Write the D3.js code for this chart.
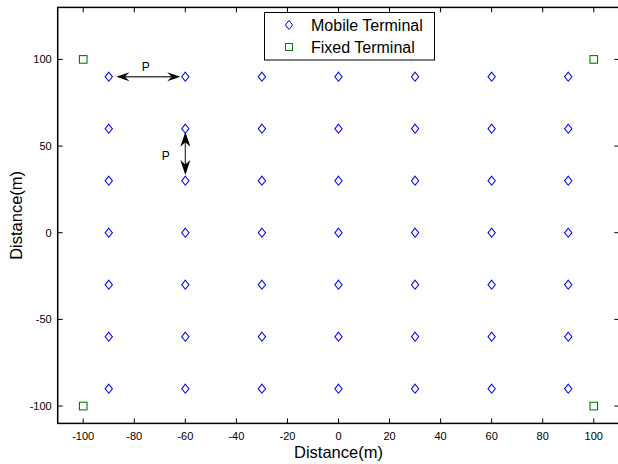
<!DOCTYPE html>
<html><head><meta charset="utf-8">
<script src="https://cdn.jsdelivr.net/npm/d3@7"></script>
<style>body{margin:0;background:#fff;}svg{display:block;font-family:"Liberation Sans",Arial,sans-serif;}</style>
</head><body>
<script>
const mobileX = [-90, -60, -30, 0, 30, 60, 90];
const mobileY = [90, 60, 30, 0, -30, -60, -90];
const fixedX = [-100, 100, -100, 100];
const fixedY = [100, 100, -100, -100];
const xTicks = [-100, -80, -60, -40, -20, 0, 20, 40, 60, 80, 100];
const yTicks = [-100, -50, 0, 50, 100];
const arrowH = {x1: -87, x2: -62, y: 90, label: "P", lx: -75.5, ly: 93.5};
const arrowV = {x: -60, y1: 58.3, y2: 33.3, label: "P", lx: -67.7, ly: 41.9};
const legendLabels = ["Mobile Terminal", "Fixed Terminal"];

const W = 618, H = 464;
const svg = d3.select("body").append("svg").attr("width", W).attr("height", H);
const x = d3.scaleLinear().domain([-110, 110]).range([57.7, 619.3]);
const y = d3.scaleLinear().domain([-110, 130]).range([423.4, 7.4]);

const g = svg.append("g");
g.append("rect").attr("x", x(-110)).attr("y", y(130)).attr("width", x(110) - x(-110)).attr("height", y(-110) - y(130))
  .attr("fill", "none").attr("stroke", "#000").attr("stroke-width", 1.5);

const tl = 5;
g.selectAll(".xt").data(xTicks).join("line").attr("x1", d => x(d)).attr("x2", d => x(d))
  .attr("y1", y(-110)).attr("y2", y(-110) - tl).attr("stroke", "#000");
g.selectAll(".xtt").data(xTicks).join("line").attr("x1", d => x(d)).attr("x2", d => x(d))
  .attr("y1", y(130)).attr("y2", y(130) + tl).attr("stroke", "#000");
g.selectAll(".yt").data(yTicks).join("line").attr("y1", d => y(d)).attr("y2", d => y(d))
  .attr("x1", x(-110)).attr("x2", x(-110) + tl).attr("stroke", "#000");
g.selectAll(".ytr").data(yTicks).join("line").attr("y1", d => y(d)).attr("y2", d => y(d))
  .attr("x1", x(110)).attr("x2", x(110) - tl).attr("stroke", "#000");

g.selectAll(".xl").data(xTicks).join("text").attr("x", d => x(d)).attr("y", y(-110) + 17)
  .attr("text-anchor", "middle").attr("font-size", 11).text(d => d);
g.selectAll(".yl").data(yTicks).join("text").attr("x", x(-110) - 6).attr("y", d => y(d) + 4)
  .attr("text-anchor", "end").attr("font-size", 11).text(d => d);

svg.append("text").attr("x", (x(-110) + x(110)) / 2).attr("y", 458).attr("text-anchor", "middle")
  .attr("font-size", 16.5).text("Distance(m)");
svg.append("text").attr("transform", `translate(22,${(y(-110) + y(130)) / 2}) rotate(-90)`)
  .attr("text-anchor", "middle").attr("font-size", 16.5).text("Distance(m)");

const pts = [];
mobileY.forEach(yy => mobileX.forEach(xx => pts.push([xx, yy])));
const diamond = (cx, cy) => `M${cx},${cy - 4.5}L${cx + 3.6},${cy}L${cx},${cy + 4.5}L${cx - 3.6},${cy}Z`;
g.selectAll(".m").data(pts).join("path").attr("d", d => diamond(x(d[0]), y(d[1])))
  .attr("fill", "none").attr("stroke", "#0000ff").attr("stroke-width", 1.1);
g.selectAll(".f").data(fixedX.map((d, i) => [d, fixedY[i]])).join("rect")
  .attr("x", d => x(d[0]) - 3.8).attr("y", d => y(d[1]) - 3.8).attr("width", 7.6).attr("height", 7.6)
  .attr("fill", "none").attr("stroke", "#008000").attr("stroke-width", 1.1);

function head(tx, ty, dx, dy, L, w) {
  const n = 4.5;
  const bx = tx - dx * L, by = ty - dy * L;
  const px = -dy, py = dx;
  const nx = tx - dx * (L - n), ny = ty - dy * (L - n);
  return `M${tx},${ty}L${bx + px * w},${by + py * w}L${nx},${ny}L${bx - px * w},${by - py * w}Z`;
}
const ax1 = x(arrowH.x1), ax2 = x(arrowH.x2), ay = y(arrowH.y);
g.append("line").attr("x1", ax1 + 6).attr("x2", ax2 - 6).attr("y1", ay).attr("y2", ay).attr("stroke", "#444").attr("stroke-width", 1.3);
g.append("path").attr("d", head(ax1, ay, -1, 0, 13, 4.5)).attr("fill", "#000");
g.append("path").attr("d", head(ax2, ay, 1, 0, 13, 4.5)).attr("fill", "#000");
g.append("text").attr("x", x(arrowH.lx)).attr("y", y(arrowH.ly)).attr("text-anchor", "middle").attr("font-size", 12).text(arrowH.label);

const vx = x(arrowV.x), vy1 = y(arrowV.y1), vy2 = y(arrowV.y2);
g.append("line").attr("x1", vx).attr("x2", vx).attr("y1", vy1 + 6).attr("y2", vy2 - 6).attr("stroke", "#444").attr("stroke-width", 1.3);
g.append("path").attr("d", head(vx, vy1, 0, -1, 15, 5)).attr("fill", "#000");
g.append("path").attr("d", head(vx, vy2, 0, 1, 15, 5)).attr("fill", "#000");
g.append("text").attr("x", x(arrowV.lx)).attr("y", y(arrowV.ly)).attr("text-anchor", "middle").attr("font-size", 12).text(arrowV.label);

const lg = svg.append("g");
lg.append("rect").attr("x", 264.5).attr("y", 12.5).attr("width", 170).attr("height", 47.5)
  .attr("fill", "#fff").attr("stroke", "#000").attr("stroke-width", 1);
lg.append("path").attr("d", diamond(289, 25)).attr("fill", "none").attr("stroke", "#0000ff");
lg.append("rect").attr("x", 289 - 3.5).attr("y", 47 - 3.5).attr("width", 7).attr("height", 7).attr("fill", "none").attr("stroke", "#008000");
lg.selectAll(".lt").data(legendLabels).join("text").attr("x", 311).attr("y", (d, i) => 31 + i * 22)
  .attr("font-size", 16).text(d => d);
</script>
</body></html>
